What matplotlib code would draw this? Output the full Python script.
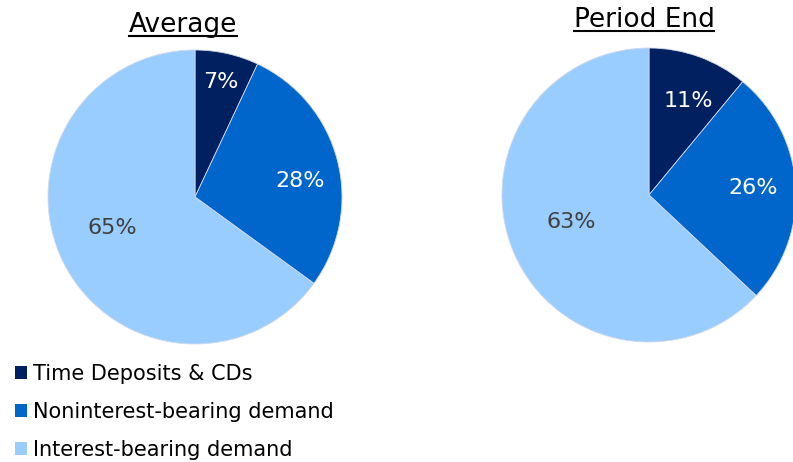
import numpy as np
import matplotlib.pyplot as plt
from matplotlib.lines import Line2D
from matplotlib.patches import Patch

categories = ["Time Deposits & CDs", "Noninterest-bearing demand", "Interest-bearing demand"]
average = [7, 28, 65]
period_end = [11, 26, 63]
colors = ["#002060", "#0066CC", "#99CCFF"]
label_colors = ["white", "white", "#404040"]

W, H = 793, 462
fig = plt.figure(figsize=(W / 100, H / 100), dpi=100)


def px_axes(x0, y0, w, h):
    # pixel box (top-left origin) -> figure fraction axes
    return fig.add_axes([x0 / W, 1 - (y0 + h) / H, w / W, h / H])


def draw_pie(ax, values, dists):
    wedges, _ = ax.pie(values, colors=colors, startangle=90, counterclock=False,
                       radius=1, wedgeprops=dict(linewidth=0.6, edgecolor="#d0d8e8"))
    # label = (radius fraction, angular nudge in radians) per wedge
    for w, v, d, c in zip(wedges, values, dists, label_colors):
        ang = np.deg2rad((w.theta1 + w.theta2) / 2) + d[1]
        ax.text(d[0] * np.cos(ang), d[0] * np.sin(ang), f"{v}%",
                ha="center", va="center", fontsize=16, color=c)
    ax.set_xlim(-1, 1)
    ax.set_ylim(-1, 1)
    ax.set_aspect("equal")
    ax.axis("off")


ax1 = px_axes(48, 50, 294, 294)
draw_pie(ax1, average, [(0.80, 0.0), (0.72, -0.10), (0.60, -0.11)])
ax2 = px_axes(502, 48, 294, 294)
draw_pie(ax2, period_end, [(0.69, -0.05), (0.71, 0.0), (0.56, -0.075)])


def underlined_title(x, y, s):
    t = fig.text(x / W, 1 - y / H, s, ha="center", va="baseline", fontsize=19, color="black")
    fig.canvas.draw()
    bb = t.get_window_extent()
    yl = 1 - (y + 4) / H
    fig.add_artist(Line2D([bb.x0 / W, bb.x1 / W], [yl, yl], color="black", linewidth=1.5))


underlined_title(183, 32, "Average")
underlined_title(644, 27, "Period End")

handles = [Patch(facecolor=c, edgecolor="none") for c in colors]
fig.legend(handles, categories, loc="upper left", bbox_to_anchor=(15 / W, 1 - 364 / H),
           frameon=False, fontsize=15, handlelength=0.58, handleheight=0.58,
           handletextpad=0.3, labelspacing=0.86, borderaxespad=0, borderpad=0)

fig.savefig("out.png", dpi=100)
